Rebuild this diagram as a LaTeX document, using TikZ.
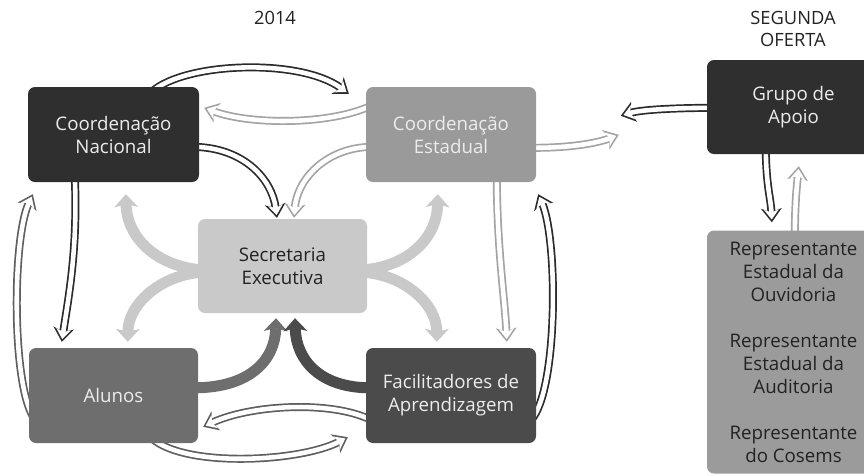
\documentclass[tikz,border=0pt]{standalone}
\usepackage{fontspec}
\setmainfont{Open Sans}
\usetikzlibrary{arrows.meta}
\pgfdeclarelayer{bg}
\pgfsetlayers{bg,main}
\definecolor{cDark}{HTML}{2F2F2F}
\definecolor{cCE}{HTML}{9A9A9A}
\definecolor{cSE}{HTML}{C9C9C9}
\definecolor{cAL}{HTML}{6E6E6E}
\definecolor{cFA}{HTML}{4B4B4B}
\definecolor{cRE}{HTML}{9B9B9B}
\definecolor{oDark}{HTML}{2A2A2A}
\definecolor{oLight}{HTML}{A3A3A3}
\definecolor{oMed}{HTML}{5E5E5E}
\definecolor{tLight}{HTML}{ECECEC}
\definecolor{tDark}{HTML}{222222}
\tikzset{
  box/.style={rounded corners=7pt, inner sep=0pt, align=center,
    font=\fontsize{18.7pt}{23pt}\selectfont},
  title/.style={align=center, text=tDark, font=\fontsize{18.3pt}{21.5pt}\selectfont},
  hout/.style={line width=8pt, draw=#1,
    -{Stealth[length=14pt,width=21pt,inset=4pt,line width=0pt]}},
  hin/.style={line width=4.6pt, draw=white, shorten >=2.8pt,
    -{Stealth[length=10pt,width=15pt,inset=3pt,line width=0pt]}},
  solidarr/.style={line width=11pt, draw=#1,
    -{Stealth[length=13pt,width=24pt,inset=3pt,line width=0pt]}}
}
\newcommand\hollow[2]{%
  \draw[hout=#1] #2;
  \draw[hin] #2;}
\begin{document}
\begin{tikzpicture}[x=1pt,y=-1pt]
\useasboundingbox (0,0) rectangle (864,475);
\clip (0,0) rectangle (864,475);

\node[title] (y2014) at (275,18) {2014};
\node[title] (seg) at (793,29) {SEGUNDA\\OFERTA};

\node[box, fill=cDark, text=tLight, minimum width=171pt, minimum height=95pt] (CN) at (113.5,134.5) {Coordenação\\Nacional};
\node[box, fill=cCE, text=tLight, minimum width=170pt, minimum height=95pt] (CE) at (451,134.5) {Coordenação\\Estadual};
\node[box, fill=cSE, text=tDark, minimum width=169pt, minimum height=94pt] (SE) at (282.5,266) {Secretaria\\Executiva};
\node[box, fill=cAL, text=tLight, minimum width=169pt, minimum height=95pt] (AL) at (113.5,395.5) {Alunos};
\node[box, fill=cFA, text=tLight, minimum width=170pt, minimum height=95pt] (FA) at (451,395.5) {Facilitadores de\\Aprendizagem};
\node[box, fill=cDark, text=tLight, minimum width=173pt, minimum height=94pt] (GA) at (793.5,107) {Grupo de\\Apoio};
\node[box, fill=cRE, text=tDark, minimum width=173pt, minimum height=243pt] (RE) at (793.5,352) {Representante\\Estadual da\\Ouvidoria\\[23pt]Representante\\Estadual da\\Auditoria\\[23pt]Representante\\do Cosems};

\begin{pgfonlayer}{bg}
% solid arrows
\draw[solidarr=cSE] ([shift={(7,4)}]SE.west) .. controls (160,268) and (127,240) .. ([shift={(98,12)}]CN.south west);
\draw[solidarr=cSE] ([shift={(7,6)}]SE.west) .. controls (160,274) and (128,305) .. ([shift={(99,-6)}]AL.north west);
\draw[solidarr=cSE] ([shift={(-7,4)}]SE.east) .. controls (405,268) and (437,240) .. ([shift={(72,12)}]CE.south west);
\draw[solidarr=cSE] ([shift={(-7,6)}]SE.east) .. controls (405,274) and (437,305) .. ([shift={(71,-6)}]FA.north west);
\draw[solidarr=cAL] ([shift={(-5,40)}]AL.north east) .. controls (250,388) and (275,360) .. ([shift={(-6.5,5)}]SE.south);
\draw[solidarr=cFA] ([shift={(5,40)}]FA.north west) .. controls (320,388) and (296,360) .. ([shift={(12.5,5)}]SE.south);
% hollow arrows
\hollow{oDark}{([shift={(124,5)}]CN.north west) .. controls (185,62) and (300,58) .. ([shift={(-17,7)}]CE.north west)}
\hollow{oLight}{([shift={(5,19)}]CE.north west) .. controls (330,125) and (250,125) .. ([shift={(5,21)}]CN.north east)}
\hollow{oDark}{([shift={(-5,60)}]CN.north east) .. controls (245,148) and (272,180) .. ([shift={(-5.5,-1)}]SE.north)}
\hollow{oLight}{([shift={(5,60)}]CE.north west) .. controls (325,148) and (297,180) .. ([shift={(11.5,-1)}]SE.north)}
\hollow{oDark}{([shift={(47,-5)}]CN.south west) .. controls (78,250) and (68,300) .. ([shift={(33,-6)}]AL.north west)}
\hollow{oMed}{([shift={(5,70)}]AL.north west) .. controls (12,385) and (12,240) .. ([shift={(5,12)}]CN.south west)}
\hollow{oLight}{([shift={(131,-5)}]CE.south west) .. controls (497,250) and (505,300) .. ([shift={(141,-6)}]FA.north west)}
\hollow{oDark}{([shift={(-5,72)}]FA.north east) .. controls (558,390) and (558,240) .. ([shift={(2,12)}]CE.south east)}
\hollow{oLight}{([shift={(-5,61)}]CE.north east) .. controls (575,148) and (600,142) .. ([shift={(-88,75)}]GA.north west)}
\hollow{oDark}{([shift={(5,48)}]GA.north west) .. controls (670,108) and (640,110) .. ([shift={(-86,56)}]GA.north west)}
\hollow{oDark}{([shift={(59,-5)}]GA.south west) .. controls (766,185) and (771,200) .. ([shift={(65,-8)}]RE.north west)}
\hollow{oLight}{([shift={(88,5)}]RE.north west) .. controls (795,200) and (797,185) .. ([shift={(92,12)}]GA.south west)}
\hollow{oMed}{([shift={(5,72)}]FA.north west) .. controls (330,400) and (250,405) .. ([shift={(5,79)}]AL.north east)}
\hollow{oMed}{([shift={(123,-5)}]AL.south west) .. controls (185,468) and (300,462) .. ([shift={(-18,-6)}]FA.south west)}
\end{pgfonlayer}
\end{tikzpicture}
\end{document}
